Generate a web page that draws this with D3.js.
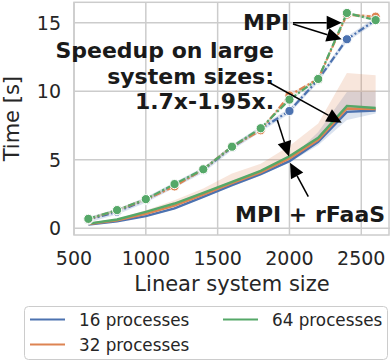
<!DOCTYPE html>
<html>
<head>
<meta charset="utf-8">
<script src="https://cdn.jsdelivr.net/npm/d3@7"></script>
<style>
  body { margin: 0; background: #fff; }
  svg { display: block; font-family: "DejaVu Sans", sans-serif; }
</style>
</head>
<body>
<svg id="chart" width="390" height="361"></svg>
<script>
const WIDTH = 390;
const HEIGHT = 361;

// linear system sizes on x
const sizes = [600, 800, 1000, 1200, 1400, 1600, 1800, 2000, 2200, 2400, 2600];

// MPI (dash-dot lines with markers)
const mpi16 = [0.62, 1.2, 2.05, 3.15, 4.25, 5.9, 7.25, 8.56, 10.85, 13.8, 15.2];
const mpi32 = [0.66, 1.3, 2.1, 3.05, 4.3, 5.95, 7.15, 9.7, 10.9, 15.6, 15.45];
const mpi64 = [0.68, 1.32, 2.12, 3.22, 4.3, 5.95, 7.3, 9.39, 10.9, 15.72, 15.2];
const mpiSpread = [0.2, 0.1, 0.1];

// MPI + rFaaS (solid lines with confidence bands)
const rfaas16 = [0.27, 0.5, 0.88, 1.44, 2.29, 3.14, 3.94, 4.9, 6.3, 8.5, 8.6];
const rfaas32 = [0.3, 0.58, 1.05, 1.65, 2.45, 3.28, 4.08, 5.1, 6.45, 8.74, 8.7];
const rfaas64 = [0.33, 0.63, 1.19, 1.8, 2.58, 3.38, 4.18, 5.25, 6.6, 8.93, 8.78];
const rfaas16Low = [0.24, 0.46, 0.83, 1.38, 2.22, 3.05, 3.85, 4.8, 6.06, 7.9, 8.37];
const rfaas16High = [0.3, 0.55, 0.93, 1.5, 2.36, 3.22, 4.02, 5.0, 7.03, 9.95, 9.95];
const rfaas32Low = [0.28, 0.55, 1.0, 1.6, 2.4, 3.22, 4.0, 5.02, 6.35, 8.5, 8.55];
const rfaas32High = [0.33, 0.68, 1.3, 2.04, 2.9, 4.0, 4.7, 6.0, 7.64, 11.34, 11.17];
const rfaas64Low = [0.3, 0.6, 1.15, 1.76, 2.54, 3.33, 4.13, 5.2, 6.55, 8.85, 8.72];
const rfaas64High = [0.36, 0.68, 1.24, 1.86, 2.64, 3.44, 4.25, 5.32, 6.68, 9.02, 8.86];

const seriesNames = ["16 processes", "32 processes", "64 processes"];
const colors = ["#4c72b0", "#dd8452", "#55a868"];

const xTicks = [500, 1000, 1500, 2000, 2500];
const yTicks = [0, 5, 10, 15];

const MARGIN = { top: 2.3, right: 0, bottom: 126, left: 74 };

const svg = d3.select("#chart");

const xScale = d3.scaleLinear()
  .domain([500, 2700])
  .range([MARGIN.left, WIDTH - MARGIN.right]);

const yScale = d3.scaleLinear()
  .domain([-0.5, 16.5])
  .range([HEIGHT - MARGIN.bottom, MARGIN.top]);

const TEXT = "#262626";
const GRID = "#cccccc";

// grid
svg.append("g")
  .selectAll("line.gx")
  .data(xTicks)
  .join("line")
  .attr("x1", d => xScale(d)).attr("x2", d => xScale(d))
  .attr("y1", yScale.range()[1]).attr("y2", yScale.range()[0])
  .attr("stroke", GRID).attr("stroke-width", 1.5);

svg.append("g")
  .selectAll("line.gy")
  .data(yTicks)
  .join("line")
  .attr("x1", xScale.range()[0]).attr("x2", xScale.range()[1])
  .attr("y1", d => yScale(d)).attr("y2", d => yScale(d))
  .attr("stroke", GRID).attr("stroke-width", 1.5);

// frame
svg.append("rect")
  .attr("x", xScale.range()[0])
  .attr("y", yScale.range()[1])
  .attr("width", xScale.range()[1] - xScale.range()[0] - 1)
  .attr("height", yScale.range()[0] - yScale.range()[1])
  .attr("fill", "none")
  .attr("stroke", GRID)
  .attr("stroke-width", 1.5);

// tick labels
svg.append("g")
  .selectAll("text")
  .data(xTicks)
  .join("text")
  .attr("x", d => xScale(d))
  .attr("y", 265)
  .attr("text-anchor", "middle")
  .attr("font-size", 19)
  .attr("fill", TEXT)
  .text(d => d);

svg.append("g")
  .selectAll("text")
  .data(yTicks)
  .join("text")
  .attr("x", 61)
  .attr("y", d => yScale(d))
  .attr("dy", "0.36em")
  .attr("text-anchor", "end")
  .attr("font-size", 19)
  .attr("fill", TEXT)
  .text(d => d);

// axis labels
svg.append("text")
  .attr("x", (xScale.range()[0] + xScale.range()[1]) / 2)
  .attr("y", 291)
  .attr("text-anchor", "middle")
  .attr("font-size", 21)
  .attr("fill", TEXT)
  .text("Linear system size");

svg.append("text")
  .attr("transform", `translate(18.5,${(yScale.range()[0] + yScale.range()[1]) / 2}) rotate(-90)`)
  .attr("text-anchor", "middle")
  .attr("font-size", 21)
  .attr("fill", TEXT)
  .text("Time [s]");

// build series
const mpiSeries = [mpi16, mpi32, mpi64];
const rfaasSeries = [rfaas16, rfaas32, rfaas64];
const rfaasLow = [rfaas16Low, rfaas32Low, rfaas64Low];
const rfaasHigh = [rfaas16High, rfaas32High, rfaas64High];

const line = d3.line()
  .x(d => xScale(d[0]))
  .y(d => yScale(d[1]));

const area = d3.area()
  .x(d => xScale(d[0]))
  .y0(d => yScale(d[1]))
  .y1(d => yScale(d[2]));

const plot = svg.append("g");

// confidence bands
rfaasSeries.forEach((vals, i) => {
  plot.append("path")
    .datum(sizes.map((s, j) => [s, rfaasLow[i][j], rfaasHigh[i][j]]))
    .attr("d", area)
    .attr("fill", colors[i])
    .attr("fill-opacity", 0.2);
});

mpiSeries.forEach((vals, i) => {
  plot.append("path")
    .datum(sizes.map((s, j) => [s, vals[j] - mpiSpread[i], vals[j] + mpiSpread[i]]))
    .attr("d", area)
    .attr("fill", colors[i])
    .attr("fill-opacity", 0.2);
});

// rFaaS solid lines
rfaasSeries.forEach((vals, i) => {
  plot.append("path")
    .datum(sizes.map((s, j) => [s, vals[j]]))
    .attr("d", line)
    .attr("fill", "none")
    .attr("stroke", colors[i])
    .attr("stroke-width", 2.4);
});

// MPI dash-dot lines with markers
mpiSeries.forEach((vals, i) => {
  const pts = sizes.map((s, j) => [s, vals[j]]);
  plot.append("path")
    .datum(pts)
    .attr("d", line)
    .attr("fill", "none")
    .attr("stroke", colors[i])
    .attr("stroke-width", 2.2)
    .attr("stroke-dasharray", "7,2.5,2,2.5");

  plot.append("g")
    .selectAll("circle")
    .data(pts)
    .join("circle")
    .attr("cx", d => xScale(d[0]))
    .attr("cy", d => yScale(d[1]))
    .attr("r", 4.6)
    .attr("fill", colors[i])
    .attr("stroke", "#fff")
    .attr("stroke-width", 1);
});

// annotations
const notes = svg.append("g")
  .attr("font-size", 22)
  .attr("font-weight", "bold")
  .attr("fill", "#1a1a1a");

notes.append("text").attr("x", 243).attr("y", 30).text("MPI");

const speedLines = ["Speedup on large", "system sizes:", "1.7x-1.95x."];
notes.selectAll("text.speed")
  .data(speedLines)
  .join("text")
  .attr("class", "speed")
  .attr("x", 274)
  .attr("y", (d, i) => 58 + i * 25.6)
  .attr("text-anchor", "end")
  .text(d => d);

notes.append("text").attr("x", 235).attr("y", 221.5).text("MPI + rFaaS");

// arrows: [from, to]
const arrows = [
  [[293, 22.7], [341.7, 22.7]],
  [[293, 24], [341.7, 39.3]],
  [[270, 83], [341.7, 122.7]],
  [[277.3, 120], [289, 156.5]],
  [[308.3, 196.7], [290, 162.7]]
];

const arrowG = svg.append("g");
arrows.forEach(([a, b]) => {
  const dx = b[0] - a[0];
  const dy = b[1] - a[1];
  const len = Math.hypot(dx, dy);
  const ux = dx / len;
  const uy = dy / len;
  const headLen = 15;
  const headHalf = 7;
  const bx = b[0] - ux * headLen;
  const by = b[1] - uy * headLen;
  arrowG.append("line")
    .attr("x1", a[0]).attr("y1", a[1])
    .attr("x2", bx).attr("y2", by)
    .attr("stroke", "#000")
    .attr("stroke-width", 1.5);
  arrowG.append("path")
    .attr("d", `M${b[0]},${b[1]}L${bx - uy * headHalf},${by + ux * headHalf}L${bx + uy * headHalf},${by - ux * headHalf}Z`)
    .attr("fill", "#000");
});

// legend
const legend = svg.append("g");
legend.append("rect")
  .attr("x", 24.5).attr("y", 306.5)
  .attr("width", 363).attr("height", 53)
  .attr("rx", 4)
  .attr("fill", "#fff")
  .attr("fill-opacity", 0.8)
  .attr("stroke", "#cccccc")
  .attr("stroke-width", 1);

const legendPos = [[30, 319.5], [30, 344.5], [223, 319.5]];
seriesNames.forEach((name, i) => {
  const [lx, ly] = legendPos[i];
  legend.append("line")
    .attr("x1", lx).attr("x2", lx + 35)
    .attr("y1", ly).attr("y2", ly)
    .attr("stroke", colors[i])
    .attr("stroke-width", 2.2);
  legend.append("text")
    .attr("x", lx + 49)
    .attr("y", ly)
    .attr("dy", "0.36em")
    .attr("font-size", 16.8)
    .attr("fill", TEXT)
    .text(name);
});
</script>
</body>
</html>
